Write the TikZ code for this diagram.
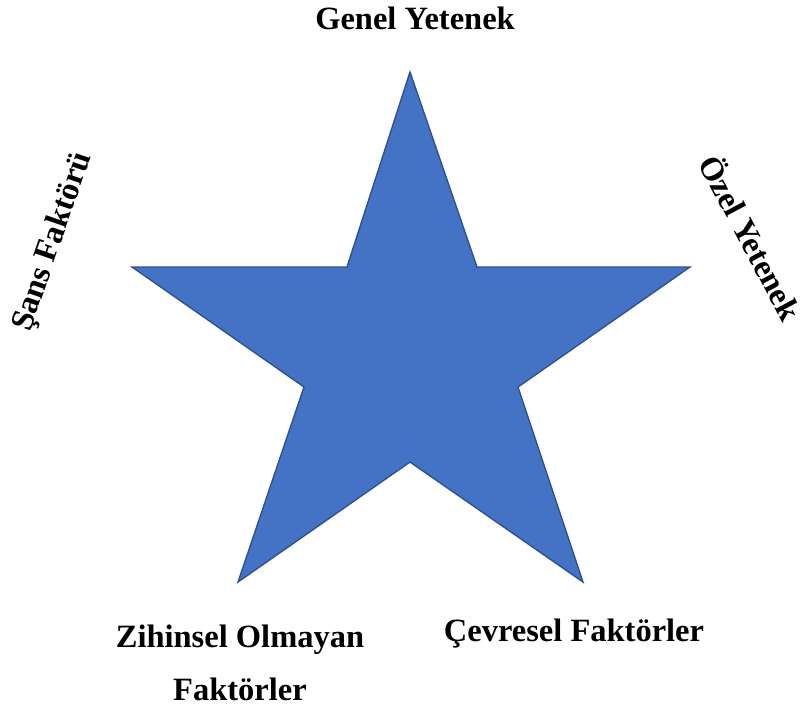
\documentclass[tikz,border=0pt]{standalone}
\usepackage{fontspec}
\setmainfont{Liberation Serif}
\usetikzlibrary{positioning}
\definecolor{starfill}{HTML}{4472C4}
\definecolor{starline}{HTML}{2F528F}

\begin{document}
\begin{tikzpicture}[
      x=1pt, y=-1pt,
      label/.style={
          font=\bfseries\fontsize{32.5}{53}\selectfont,
          align=center,
          inner sep=0pt
        },
      starshape/.style={fill=starfill, draw=starline, line width=1.4pt, line join=miter}
    ]
    \useasboundingbox (0,0) rectangle (805,714);

    % star outline
    \coordinate (top) at (410,72);
    \coordinate (ir) at (477,267);
    \coordinate (right) at (690,267);
    \coordinate (ibr) at (518,387);
    \coordinate (bright) at (583,582);
    \coordinate (ib) at (410,462);
    \coordinate (bleft) at (238,582);
    \coordinate (ibl) at (304,387);
    \coordinate (left) at (132,267);
    \coordinate (il) at (347,267);
    \draw[starshape] (top) -- (ir) -- (right) -- (ibr) -- (bright) -- (ib)
      -- (bleft) -- (ibl) -- (left) -- (il) -- cycle;

    % labels
    \node[label] (genel) at (415,18) {Genel Yetenek};
    \node[label, rotate=-62] (ozel) at (752,237) {Özel Yetenek};
    \node[label, rotate=71] (sans) at (53,242) {Şans Faktörü};
    \node[label] (zihinsel) at (240,663) {Zihinsel Olmayan\\Faktörler};
    \node[label] (cevresel) at (574,634) {Çevresel Faktörler};
  \end{tikzpicture}
\end{document}
